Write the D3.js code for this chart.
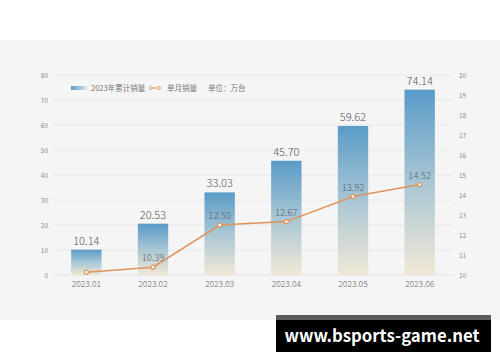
<!DOCTYPE html>
<html><head><meta charset="utf-8">
<script src="https://cdn.jsdelivr.net/npm/d3@7"></script>
<style>
html,body{margin:0;padding:0;background:#fff;}
svg{display:block;}
text{font-family:"Noto Sans CJK SC","Noto Sans",sans-serif;}
</style></head>
<body>
<svg id="chart" width="500" height="362"></svg>
<script>
const categories = ["2023.01","2023.02","2023.03","2023.04","2023.05","2023.06"];
const cumulative = [10.14, 20.53, 33.03, 45.70, 59.62, 74.14];
const monthly = [10.14, 10.39, 12.50, 12.67, 13.92, 14.52];
const leftTicks = [0,10,20,30,40,50,60,70,80];
const rightTicks = [10,11,12,13,14,15,16,17,18,19,20];
const legendLabels = ["2023年累计销量","单月销量","单位：万台"];
const watermark = "www.bsports-game.net";

const svg = d3.select("#chart");
const defs = svg.append("defs");
const g1 = defs.append("linearGradient").attr("id","barGrad").attr("x1",0).attr("y1",0).attr("x2",0).attr("y2",1);
g1.append("stop").attr("offset","0%").attr("stop-color","#5a9bc8");
g1.append("stop").attr("offset","50%").attr("stop-color","#a8c6d4");
g1.append("stop").attr("offset","100%").attr("stop-color","#f1e8d6");
const g2 = defs.append("linearGradient").attr("id","legGrad").attr("x1",0).attr("y1",0).attr("x2",1).attr("y2",0);
g2.append("stop").attr("offset","0%").attr("stop-color","#5a9bc8");
g2.append("stop").attr("offset","100%").attr("stop-color","#d8e4ea");

// panel
svg.append("rect").attr("x",0).attr("y",40).attr("width",500).attr("height",280).attr("fill","#f5f5f5");

const x = d3.scaleBand().domain(categories).range([53,453]).paddingInner(0.544).paddingOuter(0.272);
const xc = d => x(d) + x.bandwidth()/2;
const yL = d3.scaleLinear().domain([0,80]).range([275,75]);
const yR = d3.scaleLinear().domain([10,20]).range([275,75]);

// grid
svg.append("g").selectAll("line").data(leftTicks).join("line")
  .attr("x1",53).attr("x2",453).attr("y1",d=>yL(d)).attr("y2",d=>yL(d))
  .attr("stroke",d=>d===0?"#e2e2e2":"#e8e8e8").attr("stroke-width",1);

// left axis
const axL = svg.append("g").attr("transform","translate(50,0)")
  .call(d3.axisLeft(yL).tickValues(leftTicks).tickSize(0).tickPadding(2));
axL.select(".domain").remove();
axL.selectAll("text").attr("fill","#8a8a8a").attr("font-size",6.5);

// right axis
const axR = svg.append("g").attr("transform","translate(457,0)")
  .call(d3.axisRight(yR).tickValues(rightTicks).tickSize(0).tickPadding(2));
axR.select(".domain").remove();
axR.selectAll("text").attr("fill","#8a8a8a").attr("font-size",6.5);

// x axis
const axX = svg.append("g").attr("transform","translate(0,275)")
  .call(d3.axisBottom(x).tickSize(0).tickPadding(6));
axX.select(".domain").remove();
axX.selectAll("text").attr("fill","#666").attr("font-size",8.5).attr("font-weight",300);

// bars
svg.append("g").selectAll("rect").data(cumulative).join("rect")
  .attr("x",(d,i)=>x(categories[i])).attr("width",x.bandwidth())
  .attr("y",d=>yL(d)).attr("height",d=>yL(0)-yL(d))
  .attr("fill","url(#barGrad)");

svg.append("g").selectAll("text").data(cumulative).join("text")
  .attr("x",(d,i)=>xc(categories[i])).attr("y",d=>yL(d)-5)
  .attr("text-anchor","middle").attr("font-size",11).attr("fill","#555").attr("font-weight",300)
  .text(d=>d.toFixed(2));

// line
const line = d3.line().x((d,i)=>xc(categories[i])).y(d=>yR(d));
svg.append("path").datum(monthly).attr("d",line).attr("fill","none")
  .attr("stroke","#e0935a").attr("stroke-width",1.5);
svg.append("g").selectAll("circle").data(monthly).join("circle")
  .attr("cx",(d,i)=>xc(categories[i])).attr("cy",d=>yR(d)).attr("r",2)
  .attr("fill","#fff").attr("stroke","#e0935a").attr("stroke-width",1.2);
svg.append("g").selectAll("text").data(monthly).join("text")
  .attr("x",(d,i)=>xc(categories[i])).attr("y",d=>yR(d)-6)
  .attr("text-anchor","middle").attr("font-size",9.5).attr("fill","#5a6470").attr("font-weight",300)
  .text((d,i)=>i===0?"":d.toFixed(2));

// legend
const leg = svg.append("g");
leg.append("rect").attr("x",71).attr("y",86).attr("width",16).attr("height",4).attr("fill","url(#legGrad)");
leg.append("text").attr("x",91).attr("y",91).attr("font-size",7.5).attr("fill","#777").text(legendLabels[0]);
leg.append("line").attr("x1",151).attr("x2",159).attr("y1",88).attr("y2",88).attr("stroke","#e0935a").attr("stroke-width",1);
leg.selectAll("circle.lg").data([151,159]).join("circle").attr("class","lg")
  .attr("cx",d=>d).attr("cy",88).attr("r",1.5).attr("fill","#fff").attr("stroke","#e0935a").attr("stroke-width",0.9);
leg.append("text").attr("x",167).attr("y",91).attr("font-size",7.5).attr("fill","#777").text(legendLabels[1]);
leg.append("text").attr("x",208).attr("y",91).attr("font-size",7.5).attr("fill","#777").text(legendLabels[2]);

// watermark
svg.append("rect").attr("x",276).attr("y",315).attr("width",215).attr("height",6).attr("fill","#5c5c5c");
svg.append("rect").attr("x",276).attr("y",320).attr("width",215).attr("height",32).attr("fill","#000");
svg.append("text").attr("x",382).attr("y",342).attr("text-anchor","middle")
  .attr("font-family","DejaVu Sans").attr("font-weight","bold").attr("font-size",16.8)
  .attr("fill","#fff").text(watermark);
</script>
</body></html>
